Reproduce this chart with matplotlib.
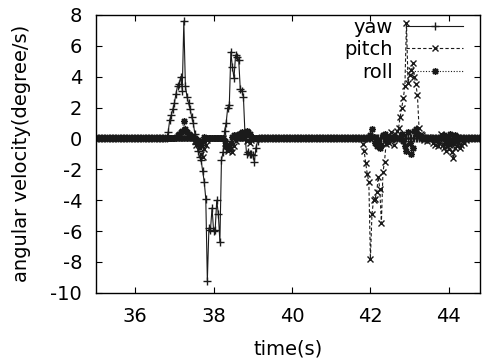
import numpy as np
import matplotlib
matplotlib.use('Agg')
import matplotlib.pyplot as plt

# ---------- data ----------
T0, DT, N = 35.0, 0.04, 246          # sampling grid 35.00 .. 44.80 s
time = np.round(T0 + DT * np.arange(N), 2)

# values are zero outside the listed segments; key = start time of segment
yaw_segments = {
    36.84: [0.4, 1.2, 1.5, 1.9, 2.3, 2.9, 3.4, 3.5, 4.0, 3.1,
            7.6, 3.4, 2.7, 2.3, 1.9, 1.4, 1.0, 0.3, -0.35, -0.8,
            -1.2, -1.4, -2.1, -2.8, -3.9,
            -9.2, -5.8, -5.9, -4.5, -6.0, -5.9, -4.0, -4.9, -6.7,
            -1.4, -0.9, 0.5, 1.0, 2.0, 2.15,
            5.6, 4.6, 3.9, 5.4, 5.3, 5.1, 3.2, 3.1, 2.7,
            0.3, -1.0, -0.9, -1.0, -1.0, -1.1, -1.5, -0.6, -0.2],
}
pitch_segments = {
    37.52: [-0.2, -0.4, -0.3, -0.6, -1.0, -1.2, -0.7, -0.4, -0.1],
    38.28: [-0.3, -0.5, -0.8, -0.4, -0.6, -0.9, -0.5, -0.2],
    38.84: [-0.2, -0.1, -0.3, -0.1],
    41.80: [-0.35, -0.8, -1.6, -2.3, -2.8, -7.8, -4.9, -4.0, -3.9, -3.5,
            -2.5, -3.3, -5.5, -2.2, -1.5, -0.35,
            0.2, -0.3, 0.4, 0.1, -0.4, 0.3, 0.5,
            0.7, 1.4, 2.0, 2.6, 3.4, 7.5, 3.6, 4.1, 4.4, 4.85, 4.0, 3.5, 2.8,
            0.7, 0.3, 0.2, -0.1, 0.0, -0.2, 0.1, -0.1, 0.0,
            -0.3, -0.4, -0.2, -0.5, -0.3, 0.3, -0.4, -0.6, -0.8, -0.5, -0.7,
            -0.4, -0.9, -1.3, -0.6, -0.5, -0.3, -0.6, -0.4, -0.2, -0.3, -0.1],
}
roll_segments = {
    37.04: [0.1, 0.2, 0.3, 0.4, 0.5, 1.1, 0.6, 0.4, 0.3, 0.2, 0.1],
    37.56: [-0.2, -0.1, -0.3, -0.4, -0.2, 0.1],
    38.28: [-0.2, -0.5, -0.7, -0.6, -0.3, 0.1, 0.2],
    38.60: [0.2, 0.3, 0.3, 0.4, 0.3, 0.2, 0.5, 0.4, 0.3, 0.1],
    42.00: [0.2, 0.6, 0.1, -0.3, -0.5, -0.2, -0.6, -0.4, 0.2, 0.3, -0.1],
    42.80: [0.3, -0.2, -0.5, -0.8, 0.4, -0.3, -1.0, -0.6, 0.5, 0.6, 0.3, 0.2],
    43.88: [0.2, -0.3, 0.1, -0.2, 0.3, -0.1, -0.3, 0.2, -0.2, 0.1],
}


def build(segments):
    v = np.zeros(N)
    for t_start, vals in segments.items():
        i0 = int(round((t_start - T0) / DT))
        v[i0:i0 + len(vals)] = vals
    return v


yaw = build(yaw_segments)
pitch = build(pitch_segments)
roll = build(roll_segments)

# ---------- style ----------
matplotlib.rcParams.update({
    'font.family': 'DejaVu Sans',
    'font.size': 14,
    'axes.unicode_minus': False,
    'axes.linewidth': 1.0,
})

fig = plt.figure(figsize=(4.85, 3.62), dpi=100)
ax = fig.add_axes([0.198, 0.191, 0.792, 0.768])

col = '#1a1a1a'
ax.plot(time, yaw, color=col, lw=0.8, ls='-', marker='+', ms=6, mew=1.0, label='yaw')
ax.plot(time, pitch, color=col, lw=0.8, ls=(0, (3, 2)), marker='x', ms=4.5, mew=1.0, label='pitch')
ax.plot(time, roll, color=col, lw=0.8, ls=(0, (1, 1.5)), marker=(8, 2, 0), ms=5, mew=1.0, label='roll')

ax.set_xlim(35, 44.8)
ax.set_ylim(-10, 8)
ax.set_xticks([36, 38, 40, 42, 44])
ax.set_yticks(np.arange(-10, 9, 2))
ax.tick_params(direction='in', length=4, width=0.8, top=True, right=True, pad=10)

ax.set_xlabel('time(s)', labelpad=10)
ax.set_ylabel('angular velocity(degree/s)', labelpad=14)

ax.legend(loc='upper right', bbox_to_anchor=(0.955, 0.99), frameon=False,
          markerfirst=False, numpoints=1, handlelength=2.9, handletextpad=0.7,
          labelspacing=0.18, borderpad=0, borderaxespad=0, fontsize=14)

fig.savefig('out.png', dpi=100, facecolor='white')
